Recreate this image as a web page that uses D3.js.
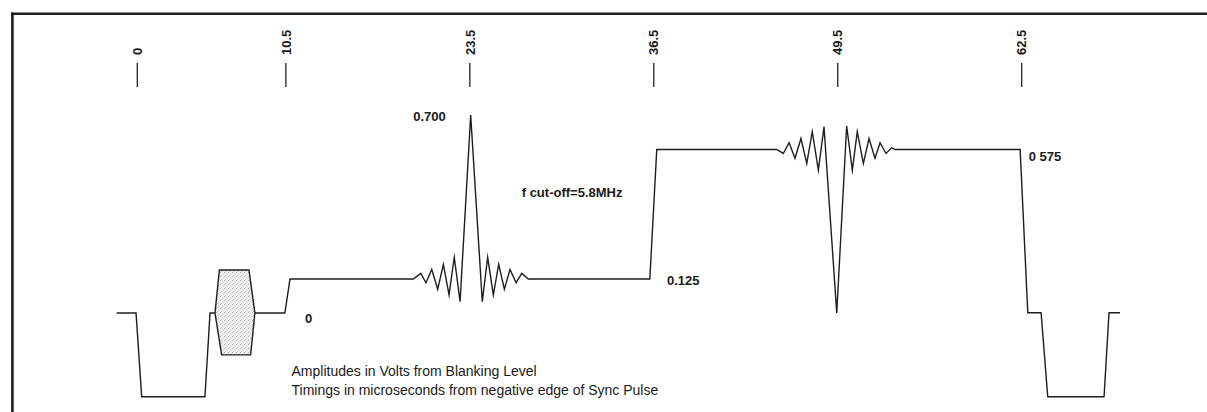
<!DOCTYPE html>
<html>
<head>
<meta charset="utf-8">
<script src="https://cdn.jsdelivr.net/npm/d3@7/dist/d3.min.js"></script>
<style>
  html, body { margin: 0; padding: 0; background: #fff; }
  svg { display: block; }
  text { font-family: "Liberation Sans", Arial, Helvetica, sans-serif; fill: #1a1a1a; }
</style>
</head>
<body>
<svg id="chart" width="1207" height="412"></svg>
<script>
// ---- data (time in microseconds from sync negative edge, amplitude in volts from blanking) ----
const tickLabels = ["0", "10.5", "23.5", "36.5", "49.5", "62.5"];
const tickValues = [0, 10.5, 23.5, 36.5, 49.5, 62.5];

// main waveform
const waveTime = [
  -1.46, -0.09, 0.31, 4.78, 5.14, 5.49, 8.31, 10.43, 10.79,
  19.51, 20.03, 20.40, 20.81, 21.23, 21.63, 22.03, 22.40, 22.81,
  23.56,
  24.38, 24.76, 25.16, 25.54, 25.94, 26.34, 26.77, 27.17, 27.63,
  36.22, 36.71, 45.19,
  45.65, 46.06, 46.48, 46.90, 47.31, 47.70, 48.13, 48.53,
  49.43,
  50.13, 50.53, 50.88, 51.31, 51.71, 52.13, 52.49, 52.91, 53.31, 53.55,
  62.39, 62.93, 63.87, 64.34, 68.32, 68.67, 69.45
];
const waveVolts = [
  0, 0, -0.296, -0.296, 0, 0, 0, 0, 0.12,
  0.12, 0.140, 0.107, 0.154, 0.084, 0.172, 0.064, 0.197, 0.040,
  0.700,
  0.040, 0.197, 0.064, 0.172, 0.084, 0.154, 0.107, 0.140, 0.12,
  0.12, 0.578, 0.578,
  0.564, 0.602, 0.547, 0.617, 0.529, 0.641, 0.505, 0.658,
  0.0,
  0.661, 0.505, 0.641, 0.529, 0.617, 0.547, 0.602, 0.564, 0.584, 0.578,
  0.578, 0.001, 0.001, -0.296, -0.296, 0.001, 0.001
];

// colour burst envelope
const burstTime  = [5.49, 5.80, 7.89, 8.31, 8.01, 5.96];
const burstVolts = [0, 0.152, 0.152, 0, -0.148, -0.148];

// value annotations
const levelLabels = ["0.700", "0.125", "0 575", "0"];
const levelTime   = [19.5, 37.43, 63.0, 11.85];
const levelVolts  = [0.7, 0.12, 0.558, -0.014];

const noteText = "f cut-off=5.8MHz";
const footnotes = [
  "Amplitudes in Volts from Blanking Level",
  "Timings in microseconds from negative edge of Sync Pulse"
];

// ---- drawing ----
const svg = d3.select("#chart");
const x = d3.scaleLinear().domain([0, 62.5]).range([137.3, 1021.7]);
const y = d3.scaleLinear().domain([0, 0.7]).range([313, 115]);

const defs = svg.append("defs");
const pat = defs.append("pattern")
  .attr("id", "stipple").attr("patternUnits", "userSpaceOnUse")
  .attr("width", 4).attr("height", 4);
pat.append("rect").attr("width", 4).attr("height", 4).attr("fill", "#f1f1f1");
pat.append("rect").attr("x", 0).attr("y", 0).attr("width", 1).attr("height", 1).attr("fill", "#b0b0b0");
pat.append("rect").attr("x", 2).attr("y", 1).attr("width", 1).attr("height", 1).attr("fill", "#cfcfcf");
pat.append("rect").attr("x", 1).attr("y", 3).attr("width", 1).attr("height", 1).attr("fill", "#c4c4c4");
pat.append("rect").attr("x", 3).attr("y", 2).attr("width", 1).attr("height", 1).attr("fill", "#dadada");

// frame (top and left edges)
svg.append("line").attr("x1", 11).attr("x2", 1207).attr("y1", 13.8).attr("y2", 13.8)
  .attr("stroke", "#1e1e1e").attr("stroke-width", 2.6);
svg.append("line").attr("x1", 12.4).attr("x2", 12.4).attr("y1", 12.5).attr("y2", 412)
  .attr("stroke", "#1e1e1e").attr("stroke-width", 2.6);

// time markers
const tickG = svg.append("g");
tickValues.forEach((v, i) => {
  tickG.append("line")
    .attr("x1", x(v)).attr("x2", x(v)).attr("y1", 63).attr("y2", 87)
    .attr("stroke", "#222").attr("stroke-width", 1.3);
  tickG.append("text")
    .attr("transform", `translate(${x(v)},55) rotate(-90)`)
    .attr("text-anchor", "start").attr("dy", "0.36em")
    .style("font-size", "13px").style("font-weight", "bold")
    .text(tickLabels[i]);
});

// waveform
const pts = waveTime.map((t, i) => [t, waveVolts[i]]);
const line = d3.line().x(d => x(d[0])).y(d => y(d[1]));
svg.append("path").datum(pts).attr("d", line)
  .attr("fill", "none").attr("stroke", "#1e1e1e").attr("stroke-width", 1.4)
  .attr("stroke-linejoin", "miter").attr("stroke-miterlimit", 10);

// burst
const bpts = burstTime.map((t, i) => [t, burstVolts[i]]);
svg.append("path").datum(bpts).attr("d", d3.line().x(d => x(d[0])).y(d => y(d[1])).curve(d3.curveLinearClosed))
  .attr("fill", "url(#stipple)").attr("stroke", "#1e1e1e").attr("stroke-width", 1.4);

// level labels
levelLabels.forEach((s, i) => {
  svg.append("text").attr("x", x(levelTime[i])).attr("y", y(levelVolts[i]) + 6)
    .style("font-size", "13px").style("font-weight", "bold").text(s);
});

svg.append("text").attr("x", 521.7).attr("y", 196.5)
  .style("font-size", "13px").style("font-weight", "bold").text(noteText);

footnotes.forEach((s, i) => {
  svg.append("text").attr("x", 291.5).attr("y", 376 + i * 19)
    .style("font-size", "14px").text(s);
});
</script>
</body>
</html>
